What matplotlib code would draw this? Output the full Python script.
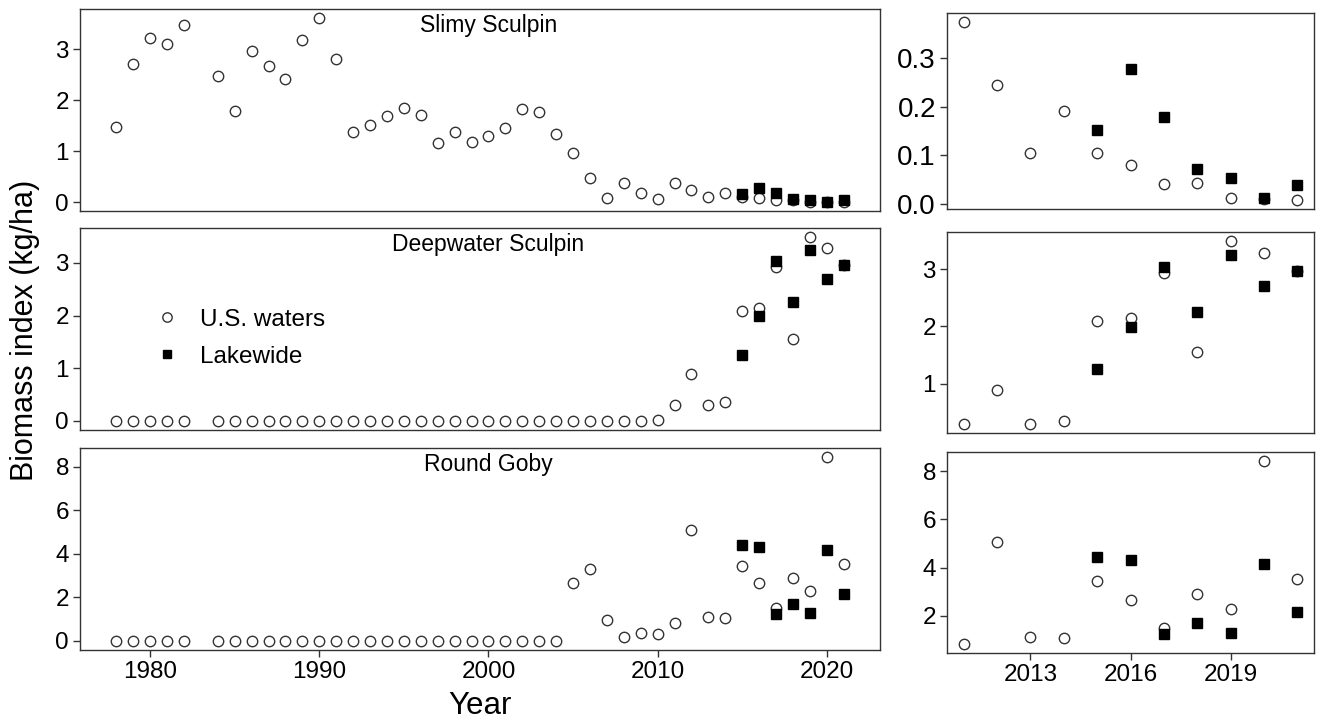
import matplotlib.pyplot as plt

plt.rcParams['font.family'] = ['Liberation Sans', 'DejaVu Sans']

# Survey years (no survey in 1983)
years = [1978, 1979, 1980, 1981, 1982,
         1984, 1985, 1986, 1987, 1988, 1989, 1990, 1991, 1992, 1993,
         1994, 1995, 1996, 1997, 1998, 1999, 2000, 2001, 2002, 2003,
         2004, 2005, 2006, 2007, 2008, 2009, 2010, 2011, 2012, 2013,
         2014, 2015, 2016, 2017, 2018, 2019, 2020, 2021]

# U.S. waters biomass index (kg/ha)
slimy_us = [1.47, 2.71, 3.22, 3.11, 3.47,
            2.47, 1.79, 2.96, 2.68, 2.42, 3.19, 3.61, 2.80, 1.38, 1.51,
            1.70, 1.85, 1.72, 1.17, 1.38, 1.18, 1.29, 1.46, 1.83, 1.76,
            1.34, 0.96, 0.48, 0.09, 0.37, 0.18, 0.07, 0.374, 0.245, 0.105,
            0.190, 0.105, 0.080, 0.042, 0.043, 0.013, 0.010, 0.008]
deepwater_us = [0.0, 0.0, 0.0, 0.0, 0.0,
                0.0, 0.0, 0.0, 0.0, 0.0, 0.0, 0.0, 0.0, 0.0, 0.0,
                0.0, 0.0, 0.0, 0.0, 0.0, 0.0, 0.0, 0.0, 0.0, 0.0,
                0.0, 0.0, 0.0, 0.0, 0.0, 0.0, 0.02, 0.30, 0.885, 0.30,
                0.35, 2.09, 2.14, 2.93, 1.55, 3.49, 3.28, 2.97]
goby_us = [0.0, 0.0, 0.0, 0.0, 0.0,
           0.0, 0.0, 0.0, 0.0, 0.0, 0.0, 0.0, 0.0, 0.0, 0.0,
           0.0, 0.0, 0.0, 0.0, 0.0, 0.0, 0.0, 0.0, 0.0, 0.0,
           0.0, 2.67, 3.28, 0.94, 0.18, 0.38, 0.33, 0.82, 5.07, 1.11,
           1.07, 3.42, 2.64, 1.49, 2.89, 2.29, 8.43, 3.54]

# Lakewide biomass index (kg/ha)
lake_years = [2015, 2016, 2017, 2018, 2019, 2020, 2021]
slimy_lake = [0.152, 0.277, 0.179, 0.071, 0.053, 0.012, 0.038]
deepwater_lake = [1.26, 1.99, 3.03, 2.25, 3.25, 2.70, 2.96]
goby_lake = [4.42, 4.31, 1.21, 1.70, 1.27, 4.15, 2.16]

species = ['Slimy Sculpin', 'Deepwater Sculpin', 'Round Goby']
us_series = [slimy_us, deepwater_us, goby_us]
lake_series = [slimy_lake, deepwater_lake, goby_lake]

left_yticks = [[0, 1, 2, 3], [0, 1, 2, 3], [0, 2, 4, 6, 8]]
right_yticks = [[0.0, 0.1, 0.2, 0.3], [1, 2, 3], [2, 4, 6, 8]]
right_ylabels = [['0.0', '0.1', '0.2', '0.3'], ['1', '2', '3'], ['2', '4', '6', '8']]

W, H = 1321, 723
fig = plt.figure(figsize=(W / 100, H / 100), dpi=100)


def px_axes(x0, x1, y0, y1):
    return fig.add_axes([x0 / W, 1 - y1 / H, (x1 - x0) / W, (y1 - y0) / H])


left_rows = [(9, 211), (228, 430), (448, 650)]
right_rows = [(13, 209), (232, 433), (452, 653)]

edge = '#333333'
circle_kw = dict(marker='o', linestyle='none', ms=7.5, mfc='none', mec=edge, mew=1.0)
square_kw = dict(marker='s', linestyle='none', ms=7, color='black')


def style(ax):
    for s in ax.spines.values():
        s.set_color(edge)
        s.set_linewidth(1.0)
    ax.tick_params(direction='out', length=5, width=1, color=edge,
                   labelsize=17.5, pad=3)


for i in range(3):
    # long time series
    ax = px_axes(80, 880, *left_rows[i])
    ax.plot(years, us_series[i], **circle_kw, label='U.S. waters')
    ax.plot(lake_years, lake_series[i], **square_kw, label='Lakewide')
    ax.set_yticks(left_yticks[i])
    ax.set_xticks([1980, 1990, 2000, 2010, 2020])
    style(ax)
    ax.annotate(species[i], xy=(2000, 0.92), xycoords=('data', 'axes fraction'),
                ha='center', va='center', fontsize=16.5)
    if i < 2:
        ax.tick_params(axis='x', bottom=False, labelbottom=False)
    else:
        ax.set_xlabel('Year', fontsize=22.5, labelpad=6)
    if i == 1:
        ax.legend(loc='center left', bbox_to_anchor=(0.093, 0.454), frameon=False,
                  fontsize=17.5, handlelength=1.0, handletextpad=0.87,
                  borderpad=0, borderaxespad=0, labelspacing=0.62, markerscale=0.9)

    # recent years
    recent = [k for k, y in enumerate(years) if y >= 2011]
    axr = px_axes(947, 1314, *right_rows[i])
    axr.plot([years[k] for k in recent], [us_series[i][k] for k in recent], **circle_kw)
    axr.plot(lake_years, lake_series[i], **square_kw)
    axr.set_yticks(right_yticks[i])
    axr.set_yticklabels(right_ylabels[i])
    axr.set_xticks([2013, 2016, 2019])
    style(axr)
    if i == 0:
        axr.tick_params(axis='y', labelsize=20)
    if i < 2:
        axr.tick_params(axis='x', bottom=False, labelbottom=False)

fig.text(25 / W, 1 - 330 / H, 'Biomass index (kg/ha)', rotation=90,
         ha='center', va='center', fontsize=22)

fig.savefig('out.png', dpi=100)
